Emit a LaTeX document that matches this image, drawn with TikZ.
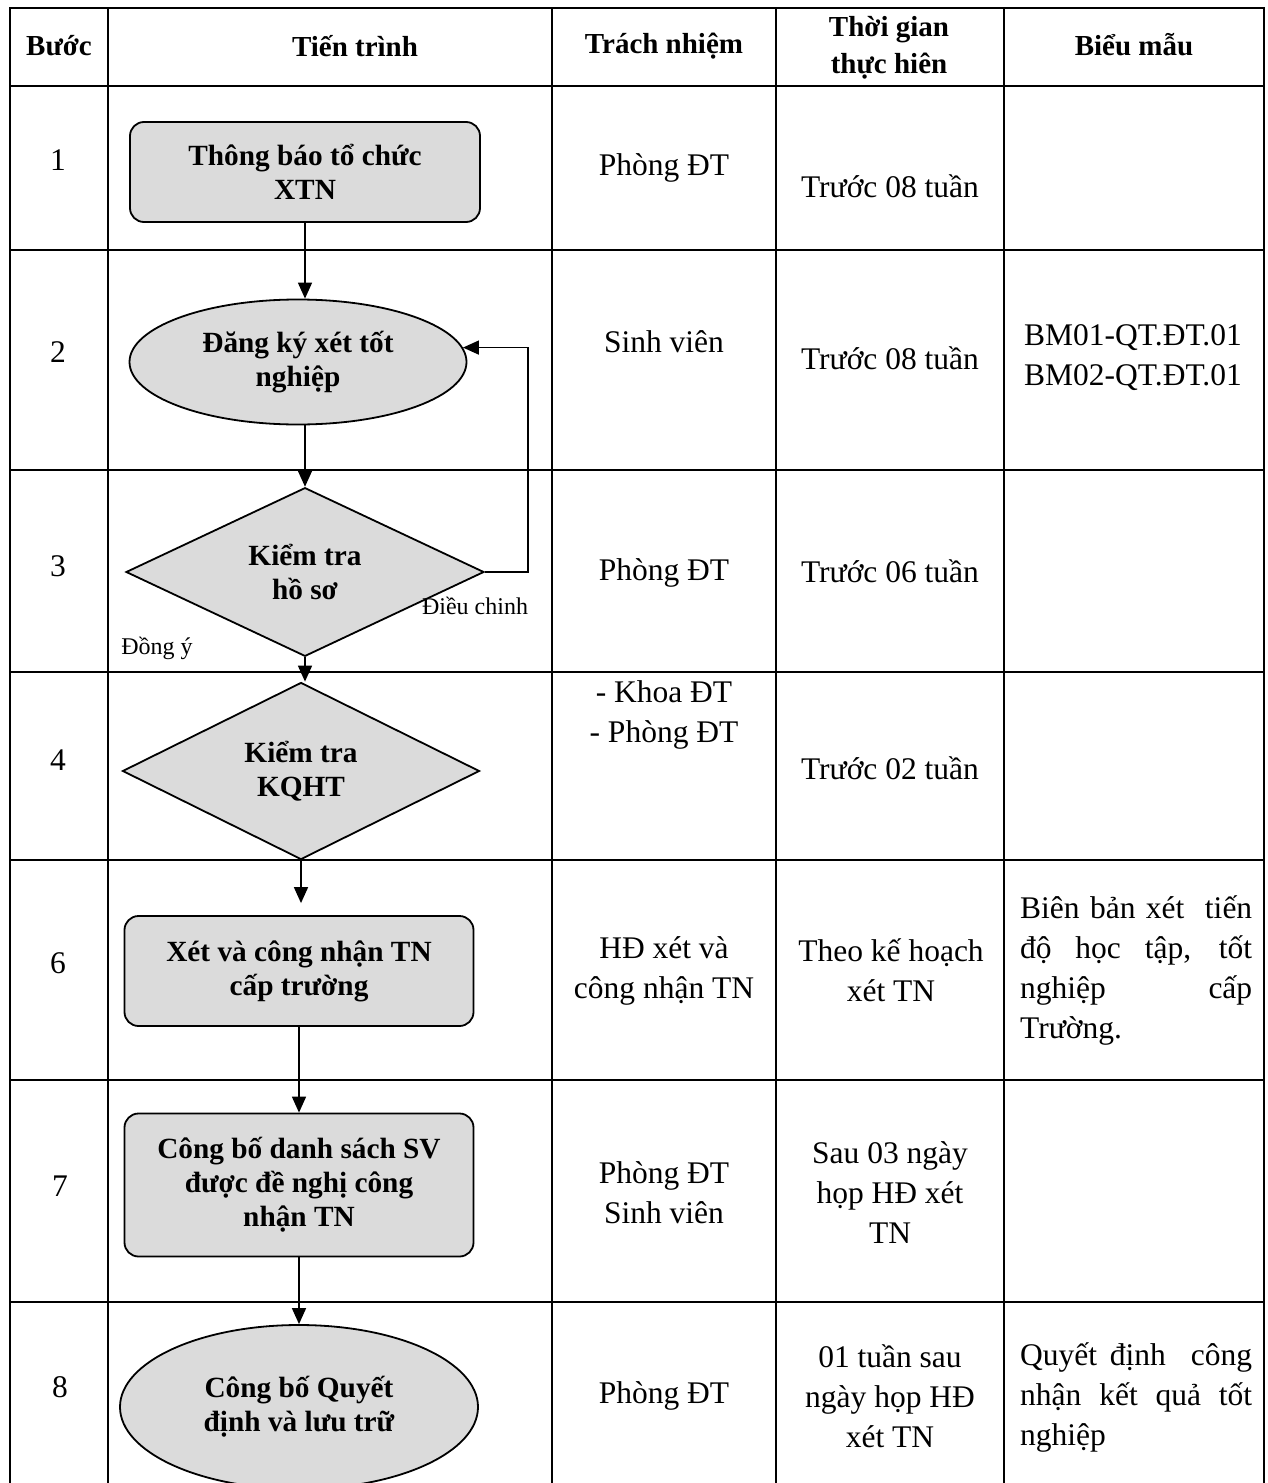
\documentclass[tikz,border=0pt]{standalone}
\usepackage{fontspec}
\setmainfont{Liberation Serif}
\usetikzlibrary{shapes.geometric,arrows.meta}
\tikzset{
  grid/.style={line width=1.6pt},
  fillshape/.style={draw, line width=1.8pt, fill=black!14, font=\fontsize{29.3}{34}\selectfont\bfseries, align=center, inner sep=0pt},
  rbox/.style={fillshape, rectangle, rounded corners=14pt},
  ebox/.style={fillshape, ellipse},
  dbox/.style={fillshape, diamond},
  arr/.style={line width=1.6pt, -{Triangle[length=16pt,width=14pt]}},
  hd/.style={font=\fontsize{29}{37}\selectfont\bfseries, align=center, inner sep=0pt},
  bt/.style={font=\fontsize{31.5}{40}\selectfont, align=center, inner sep=0pt},
  sm/.style={font=\fontsize{24}{28}\selectfont, inner sep=0pt},
}
\newcommand{\jl}[1]{\makebox[232pt][s]{#1}}
\begin{document}
\begin{tikzpicture}[x=1pt,y=-1pt]
\useasboundingbox (0,0) rectangle (1268,1483);
\clip (0,0) rectangle (1268,1483);
% table
\draw[grid] (10,1500) -- (10,8) -- (1264,8) -- (1264,1500);
\foreach \xx in {108,552,776,1004} \draw[grid] (\xx,8) -- (\xx,1500);
\foreach \yy in {86,250,470,672,860,1080} \draw[grid] (10,\yy) -- (1264,\yy);
\draw[line width=2.4pt] (10,1302) -- (1264,1302);
% header
\node[hd] (h1) at (59,46) {Bước};
\node[hd] (h2) at (355,46) {Tiến trình};
\node[hd] (h3) at (664,46) {Trách nhiệm};
\node[hd] (h4) at (889,48) {Thời gian\\thực hiên};
\node[hd] (h5) at (1134,45) {Biểu mẫu};
% step numbers
\node[bt] (n1) at (58,160) {1};
\node[bt] (n2) at (58,352) {2};
\node[bt] (n3) at (58,566) {3};
\node[bt] (n4) at (58,760) {4};
\node[bt] (n6) at (58,963) {6};
\node[bt] (n7) at (60,1186) {7};
\node[bt] (n8) at (60,1387) {8};
% shapes
\node[rbox, minimum width=350pt, minimum height=100pt] (s1) at (305,172) {Thông báo tổ chức\\XTN};
\node[ebox, minimum width=337pt, minimum height=125pt] (s2) at (298,362) {Đăng ký xét tốt\\nghiệp};
\node[dbox, minimum width=358pt, minimum height=168pt] (s3) at (305,572) {Kiểm tra\\hồ sơ};
\node[dbox, minimum width=357pt, minimum height=177pt] (s4) at (301,771) {Kiểm tra\\KQHT};
\node[rbox, minimum width=349pt, minimum height=110pt] (s6) at (299,971) {Xét và công nhận TN\\cấp trường};
\node[rbox, minimum width=349pt, minimum height=143pt] (s7) at (299,1185) {Công bố danh sách SV\\được đề nghị công\\nhận TN};
\node[ebox, minimum width=358pt, minimum height=164pt] (s8) at (299,1407) {Công bố Quyết\\định và lưu trữ};
% connectors
\draw[arr] (s1.south) -- (s1.south |- s2.north);
\draw[arr] (s3.north |- s2.south) -- (s3.north);
\draw[arr] (s3.south) -- (s3.south |- s4.north);
\draw[arr, shorten >=12pt] (s4.south) -- (s4.south |- s6.north);
\draw[arr] (s6.south) -- (s7.north);
\draw[arr] (s7.south -| s8.north) -- (s8.north);
\coordinate (lp) at (528,572);
\draw[arr] (s3.east) -- (lp) |- (s2.5);
\node[sm] (l1) at (475,606) {Điều chinh};
\node[sm] (l2) at (157,648) {Đồng ý};
% responsibility
\node[bt] (r1) at (664,168) {Phòng ĐT};
\node[bt] (r2) at (664,342) {Sinh viên};
\node[bt] (r3) at (664,573) {Phòng ĐT};
\node[bt] (r4) at (664,715) {- Khoa ĐT\\- Phòng ĐT};
\node[bt] (r6) at (664,971) {HĐ xét và\\công nhận TN};
\node[bt] (r7) at (664,1193) {Phòng ĐT\\Sinh viên};
\node[bt] (r8) at (664,1396) {Phòng ĐT};
% time
\node[bt] (t1) at (890,186) {Trước 08 tuần};
\node[bt] (t2) at (890,358) {Trước 08 tuần};
\node[bt] (t3) at (890,571) {Trước 06 tuần};
\node[bt] (t4) at (890,768) {Trước 02 tuần};
\node[bt] (t6) at (891,970) {Theo kế hoạch\\xét TN};
\node[bt] (t7) at (890,1193) {Sau 03 ngày\\họp HĐ xét\\TN};
\node[bt] (t8) at (890,1396) {01 tuần sau\\ngày họp HĐ\\xét TN};
% forms
\node[bt] (f2) at (1133,358) {BM01-QT.ĐT.01\\BM02-QT.ĐT.01};
\node[bt, align=left, anchor=west] (f6) at (1020,970) {\jl{Biên bản xét\ \ tiến}\\\jl{độ học tập, tốt}\\\jl{nghiệp cấp}\\Trường.};
\node[bt, align=left, anchor=west] (f8) at (1020,1397) {\jl{Quyết định\ \ công}\\\jl{nhận kết quả tốt}\\nghiệp};
\end{tikzpicture}
\end{document}
